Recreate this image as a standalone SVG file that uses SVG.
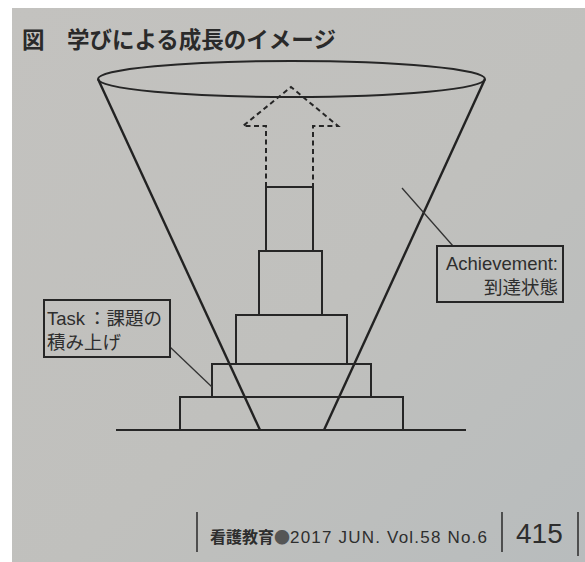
<svg xmlns="http://www.w3.org/2000/svg" width="585" height="562" viewBox="0 0 585 562">
  <defs>
    <linearGradient id="paper" x1="0" y1="0" x2="1" y2="1">
      <stop offset="0" stop-color="#c3c2bf"/>
      <stop offset="0.55" stop-color="#c0c0bd"/>
      <stop offset="1" stop-color="#b8bcbd"/>
    </linearGradient>
  </defs>
  <style>
    .ln { stroke: #262626; fill: none; stroke-width: 2; }
    .cone { stroke: #222; fill: none; stroke-width: 2.4; }
    .box { stroke: #262626; fill: none; stroke-width: 2; }
    .dash { stroke: #262626; fill: none; stroke-width: 2; stroke-dasharray: 5 3.5; }
    .lead { stroke: #333; fill: none; stroke-width: 1.3; }
    .lbl { font-family: "Liberation Sans", "Noto Sans CJK JP", sans-serif; font-size: 18.5px; fill: #2e2e2e; }
    .cjk { font-family: "Noto Sans CJK JP", sans-serif; }
  </style>
  <rect x="0" y="0" width="585" height="562" fill="#ffffff"/>
  <rect x="12" y="8" width="573" height="554" fill="url(#paper)"/>

  <g id="title">
    <text x="22" y="48" font-family="Noto Sans CJK JP, sans-serif" font-size="22.5" font-weight="bold" fill="#2a2a2a">図　学びによる成長のイメージ</text>
  </g>

  <g id="cone">
    <ellipse class="ln" cx="291.5" cy="79" rx="193.5" ry="18"/>
    <line class="cone" x1="98" y1="79" x2="260" y2="430"/>
    <line class="cone" x1="485" y1="79" x2="324" y2="430"/>
  </g>

  <g id="ground">
    <line class="ln" x1="116" y1="430" x2="466" y2="430"/>
  </g>

  <g id="arrow">
    <path class="dash" d="M266,187 V126 H243 L291,87 L338,126 H313 V187"/>
  </g>

  <g id="steps">
    <rect id="step1" class="box" x="180" y="397" width="223" height="33"/>
    <rect id="step2" class="box" x="212" y="364" width="159" height="33"/>
    <rect id="step3" class="box" x="236" y="315" width="111" height="49"/>
    <rect id="step4" class="box" x="259" y="251" width="63" height="64"/>
    <rect id="step5" class="box" x="266" y="187" width="47" height="64"/>
  </g>

  <g id="connectors">
    <line class="lead" x1="170" y1="347" x2="212" y2="387"/>
    <line class="lead" x1="402" y1="188" x2="453" y2="246"/>
  </g>

  <g id="task-label">
    <rect class="box" x="44" y="300" width="126" height="57" stroke-width="1.8"/>
    <text class="lbl" x="47" y="325">Task<tspan class="cjk" x="88">：課題の</tspan></text>
    <text class="lbl cjk" x="47" y="349">積み上げ</text>
  </g>

  <g id="achievement-label">
    <rect class="box" x="437" y="246" width="126" height="56" stroke-width="1.8"/>
    <text class="lbl" x="558" y="270" text-anchor="end">Achievement:</text>
    <text class="lbl cjk" x="558" y="294" text-anchor="end">到達状態</text>
  </g>

  <g id="footer">
    <line stroke="#333" stroke-width="1.6" x1="197" y1="512" x2="197" y2="552"/>
    <line stroke="#333" stroke-width="1.6" x1="502" y1="512" x2="502" y2="552"/>
    <line stroke="#333" stroke-width="1.6" x1="578" y1="512" x2="578" y2="556"/>
    <text x="210" y="543" font-family="Liberation Sans, Noto Sans CJK JP, sans-serif" fill="#2e2e2e"><tspan font-family="Noto Sans CJK JP, sans-serif" font-size="16" font-weight="bold">看護教育</tspan><tspan font-family="Noto Sans CJK JP, sans-serif" font-size="16" fill="#555">●</tspan><tspan font-size="17" letter-spacing="1.2">2017 JUN. Vol.58 No.6</tspan></text>
    <text x="516" y="543" font-family="Liberation Sans, sans-serif" font-size="28" fill="#2e2e2e">415</text>
  </g>
</svg>
